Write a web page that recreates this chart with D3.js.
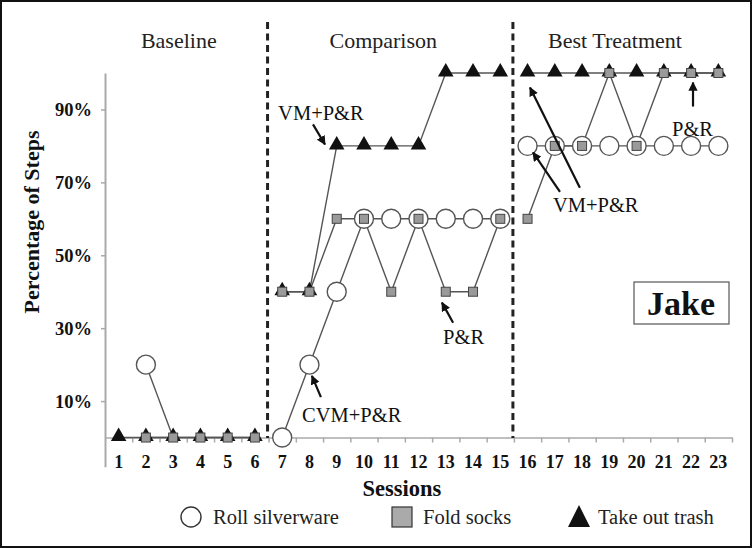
<!DOCTYPE html>
<html>
<head>
<meta charset="utf-8">
<script src="https://cdn.jsdelivr.net/npm/d3@7"></script>
<style>
    body { margin: 0; background: #fff; }
    svg { display: block; }
    svg text { font-family: "Times New Roman", "Liberation Serif", Times, serif; }
</style>
</head>
<body>
<svg id="chart" width="752" height="548"></svg>
<script>
// sessions on the x axis
const sessions = [1, 2, 3, 4, 5, 6, 7, 8, 9, 10, 11, 12, 13, 14, 15, 16, 17, 18, 19, 20, 21, 22, 23];

// percentage of steps per task (null = no probe)
const silverware = [null, 20, 0, null, null, null, 0, 20, 40, 60, 60, 60, 60, 60, 60, 80, 80, 80, 80, 80, 80, 80, 80];
const socks      = [null, 0, 0, 0, 0, 0, 40, 40, 60, 60, 40, 60, 40, 40, 60, 60, 80, 80, 100, 80, 100, 100, 100];
const trash      = [0, 0, 0, 0, 0, 0, 40, 40, 80, 80, 80, 80, 100, 100, 100, 100, 100, 100, 100, 100, 100, 100, 100];
// silverware point that only shows as a line end
const silverwareNoMarker = [3];

// phases
const phaseNames = ["Baseline", "Comparison", "Best Treatment"];
const phaseFirst = [1, 7, 16];
const phaseLast = [6, 15, 23];

const yTicks = [10, 30, 50, 70, 90];
const legendLabels = ["Roll silverware", "Fold socks", "Take out trash"];
const studentName = "Jake";

// annotations, in session / percent units
const notes = [
    {text: "VM+P&R", s: 6.85, p: 87.2, arrows: [[8.13, 85.9, 8.57, 80.4]]},
    {text: "CVM+P&R", s: 7.73, p: 4.3, arrows: [[8.42, 11.1, 8.09, 16.9]]},
    {text: "P&R", s: 12.9, p: 25.7, arrows: [[13.27, 31.5, 12.86, 37]]},
    {text: "P&R", s: 21.3, p: 82.6, arrows: [[22.07, 90.8, 22.07, 97.4]]},
    {text: "VM+P&R", s: 16.93, p: 62, arrows: [[17.19, 67.4, 16.2, 78.2], [17.92, 68.5, 16.09, 96]]}
];

const serif = "'Times New Roman', 'Liberation Serif', Times, serif";
const svg = d3.select("#chart");

// scales
const x = d3.scaleBand().domain(sessions).range([105, 732]);
const xs = d3.scaleLinear().domain([0.5, 23.5]).range([105, 732]);
const y = d3.scaleLinear().domain([-8, 100]).range([466.7, 73]);
const cx = s => x(s) + x.bandwidth() / 2;

// arrow head
svg.append("defs").append("marker")
    .attr("id", "head")
    .attr("viewBox", "0 0 10 10")
    .attr("refX", 9).attr("refY", 5)
    .attr("markerWidth", 4.2).attr("markerHeight", 4.2)
    .attr("orient", "auto")
    .append("path")
    .attr("d", "M0,0L10,5L0,10Z")
    .attr("fill", "#111");

// y axis
const yAxis = svg.append("g")
    .attr("transform", "translate(105,0)")
    .call(d3.axisLeft(y).tickValues(yTicks).tickSize(4).tickSizeOuter(0).tickPadding(9).tickFormat(d => d + "%"));
yAxis.select(".domain").attr("stroke", "#aaa").attr("stroke-width", 2);
yAxis.selectAll(".tick line").attr("stroke", "#aaa").attr("stroke-width", 1.5);
yAxis.selectAll("text")
    .attr("font-family", serif)
    .attr("font-size", 18.5).attr("font-weight", "bold").attr("fill", "#111");

// x axis: labels at centers, ticks at boundaries
const xAxis = svg.append("g")
    .attr("transform", `translate(0,${y(0)})`)
    .call(d3.axisBottom(x).tickSize(0).tickPadding(18));
xAxis.select(".domain").attr("stroke", "#aaa").attr("stroke-width", 1.5);
xAxis.selectAll("text")
    .attr("font-family", serif)
    .attr("font-size", 18).attr("font-weight", "bold").attr("fill", "#111");

const xTickMarks = svg.append("g")
    .attr("transform", `translate(0,${y(0)})`)
    .call(d3.axisBottom(xs).tickValues(sessions.map(s => s + 0.5)).tickSize(5).tickFormat(""));
xTickMarks.select(".domain").remove();
xTickMarks.selectAll(".tick line").attr("stroke", "#aaa").attr("stroke-width", 1.5);

// axis titles
svg.append("text")
    .attr("transform", "translate(39,222) rotate(-90)")
    .attr("text-anchor", "middle")
    .attr("font-size", 22).attr("font-weight", "bold").attr("fill", "#111")
    .text("Percentage of Steps");

svg.append("text")
    .attr("x", 402).attr("y", 496)
    .attr("text-anchor", "middle")
    .attr("font-size", 22.5).attr("font-weight", "bold").attr("fill", "#111")
    .text("Sessions");

// phase change lines
svg.selectAll(".phase-line")
    .data(phaseFirst.slice(1))
    .join("line")
    .attr("class", "phase-line")
    .attr("x1", d => x(d) - 1).attr("x2", d => x(d) - 1)
    .attr("y1", 22).attr("y2", 438)
    .attr("stroke", "#222").attr("stroke-width", 3)
    .attr("stroke-dasharray", "7,4.5");

// phase labels
svg.selectAll(".phase-label")
    .data(phaseNames)
    .join("text")
    .attr("class", "phase-label")
    .attr("x", (d, i) => (x(phaseFirst[i]) + x(phaseLast[i]) + x.bandwidth()) / 2 - 8)
    .attr("y", 48)
    .attr("text-anchor", "middle")
    .attr("font-size", 22).attr("fill", "#222")
    .text(d => d);

// build points per series
const toPoints = vals => sessions.map((s, i) => ({s: s, v: vals[i]})).filter(d => d.v !== null);
const series = [
    {name: "silverware", pts: toPoints(silverware)},
    {name: "trash", pts: toPoints(trash)},
    {name: "socks", pts: toPoints(socks)}
];

const line = d3.line().x(d => cx(d.s)).y(d => y(d.v));

// connecting lines, broken at each phase change
const lineGroup = svg.append("g").attr("class", "lines");
series.forEach(sr => {
    phaseFirst.forEach((first, i) => {
        const seg = sr.pts.filter(d => d.s >= first && d.s <= phaseLast[i]);
        if (seg.length < 2) return;
        lineGroup.append("path")
            .attr("d", line(seg))
            .attr("fill", "none")
            .attr("stroke", "#555")
            .attr("stroke-width", 1.4);
    });
});

// circles: roll silverware
svg.append("g").selectAll("circle")
    .data(series[0].pts.filter(d => !silverwareNoMarker.includes(d.s)))
    .join("circle")
    .attr("cx", d => cx(d.s)).attr("cy", d => y(d.v))
    .attr("r", 9.5)
    .attr("fill", "#fff").attr("stroke", "#555").attr("stroke-width", 1.4);

// triangles: take out trash
const tri = d3.symbol().type(d3.symbolTriangle).size(105);
svg.append("g").selectAll("path")
    .data(series[1].pts)
    .join("path")
    .attr("d", tri)
    .attr("transform", d => `translate(${cx(d.s)},${y(d.v) - 1})`)
    .attr("fill", "#111");

// squares: fold socks
svg.append("g").selectAll("rect")
    .data(series[2].pts)
    .join("rect")
    .attr("x", d => cx(d.s) - 4.5).attr("y", d => y(d.v) - 4.5)
    .attr("width", 9).attr("height", 9)
    .attr("fill", "#9a9a9a").attr("stroke", "#444").attr("stroke-width", 1);

// annotations
const noteGroup = svg.append("g").attr("class", "notes");
notes.forEach(n => {
    noteGroup.append("text")
        .attr("x", xs(n.s)).attr("y", y(n.p))
        .attr("font-size", 20.5).attr("fill", "#111")
        .text(n.text);
    n.arrows.forEach(a => {
        noteGroup.append("line")
            .attr("x1", xs(a[0])).attr("y1", y(a[1]))
            .attr("x2", xs(a[2])).attr("y2", y(a[3]))
            .attr("stroke", "#111").attr("stroke-width", 2.2)
            .attr("marker-end", "url(#head)");
    });
});

// student name box
svg.append("rect")
    .attr("x", 634).attr("y", 282)
    .attr("width", 95).attr("height", 42)
    .attr("fill", "#fff").attr("stroke", "#555").attr("stroke-width", 1.2);
svg.append("text")
    .attr("x", 681).attr("y", 315)
    .attr("text-anchor", "middle")
    .attr("font-size", 34).attr("font-weight", "bold").attr("fill", "#111")
    .text(studentName);

// legend
const legend = svg.append("g").attr("class", "legend");
const legendX = [191, 402, 579];
const legendTextX = [213, 423, 598];
legend.append("circle")
    .attr("cx", legendX[0]).attr("cy", 517).attr("r", 10)
    .attr("fill", "#fff").attr("stroke", "#333").attr("stroke-width", 1.4);
legend.append("rect")
    .attr("x", legendX[1] - 10).attr("y", 507)
    .attr("width", 20).attr("height", 20)
    .attr("fill", "#aaa").attr("stroke", "#333").attr("stroke-width", 1.2);
legend.append("path")
    .attr("d", `M${legendX[2] - 11},527L${legendX[2]},505L${legendX[2] + 11},527Z`)
    .attr("fill", "#111");
legend.selectAll("text")
    .data(legendLabels)
    .join("text")
    .attr("x", (d, i) => legendTextX[i]).attr("y", 524)
    .attr("font-size", 20.5).attr("fill", "#222")
    .text(d => d);

// outer frame
svg.append("rect")
    .attr("x", 1).attr("y", 1)
    .attr("width", 750).attr("height", 546)
    .attr("fill", "none").attr("stroke", "#111").attr("stroke-width", 2);
</script>
</body>
</html>
